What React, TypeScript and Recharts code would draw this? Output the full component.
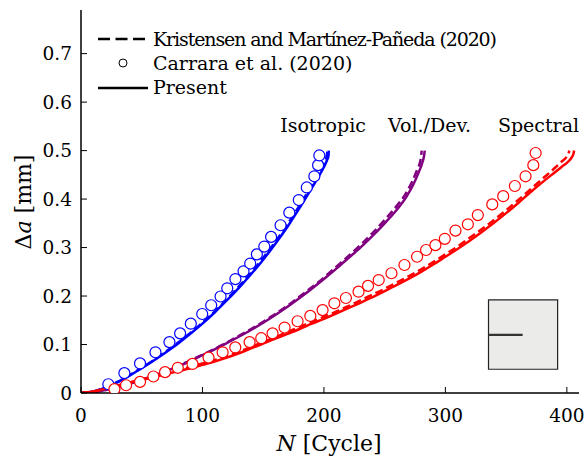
import { ComposedChart, Line, Scatter, XAxis, YAxis, ReferenceArea, ReferenceLine } from 'recharts'

// [N, Δa] pairs
const isoPresent = [
  [0, 0], [10, 0.003], [20, 0.011], [30, 0.022], [40, 0.036], [50, 0.051], [60, 0.067],
  [70, 0.084], [80, 0.102], [90, 0.122], [100, 0.143], [110, 0.166], [120, 0.191],
  [130, 0.217], [140, 0.245], [150, 0.275], [160, 0.308], [170, 0.343], [180, 0.382],
  [190, 0.423], [196, 0.448], [200, 0.466], [202.5, 0.48], [203.8, 0.49], [204, 0.5]
]
const isoKristensen = [
  [0, 0], [10, 0.003], [20, 0.012], [30, 0.023], [40, 0.037], [50, 0.052], [60, 0.068],
  [70, 0.086], [80, 0.104], [90, 0.124], [100, 0.145], [110, 0.168], [120, 0.193],
  [130, 0.22], [140, 0.248], [150, 0.279], [160, 0.312], [170, 0.348], [180, 0.387],
  [190, 0.428], [196, 0.454], [200, 0.472], [202, 0.485], [203, 0.5]
]
const isoCarrara = [
  [22.5, 0.018], [35.7, 0.041], [48.6, 0.061], [61.3, 0.084], [72.8, 0.105], [81.6, 0.123],
  [90.4, 0.143], [99.8, 0.163], [107.2, 0.181], [114.9, 0.199], [120.4, 0.216], [127.1, 0.235],
  [133.8, 0.251], [139.3, 0.267], [144.8, 0.286], [150.9, 0.302], [156.5, 0.322], [164.3, 0.346],
  [171.5, 0.372], [179.3, 0.398], [185.9, 0.424], [192.1, 0.447], [195.2, 0.47], [196.2, 0.49]
]

const volPresent = [
  [0, 0], [10, 0.002], [20, 0.006], [30, 0.012], [40, 0.019], [50, 0.027], [60, 0.036],
  [70, 0.045], [80, 0.055], [90, 0.066], [100, 0.078], [110, 0.09], [120, 0.103], [130, 0.116],
  [140, 0.13], [150, 0.145], [160, 0.161], [170, 0.178], [180, 0.196], [190, 0.215], [200, 0.235],
  [210, 0.256], [220, 0.278], [230, 0.3], [240, 0.324], [250, 0.35], [260, 0.378], [268, 0.405],
  [274, 0.432], [278, 0.455], [281, 0.475], [282.5, 0.49], [283, 0.5]
]
const volKristensen = [
  [0, 0], [10, 0.002], [20, 0.006], [30, 0.012], [40, 0.019], [50, 0.027], [60, 0.036],
  [70, 0.046], [80, 0.056], [90, 0.067], [100, 0.079], [110, 0.091], [120, 0.104], [130, 0.118],
  [140, 0.132], [150, 0.147], [160, 0.163], [170, 0.18], [180, 0.199], [190, 0.218], [200, 0.238],
  [210, 0.26], [220, 0.282], [230, 0.305], [240, 0.33], [250, 0.357], [260, 0.386], [268, 0.414],
  [273, 0.438], [277, 0.462], [279.5, 0.48], [280.5, 0.5]
]

const specPresent = [
  [0, 0], [10, 0.003], [20, 0.009], [30, 0.015], [40, 0.021], [50, 0.027], [60, 0.033],
  [70, 0.039], [80, 0.045], [90, 0.051], [100, 0.058], [110, 0.065], [120, 0.073], [130, 0.082],
  [140, 0.092], [150, 0.102], [160, 0.112], [170, 0.122], [180, 0.132], [190, 0.143], [200, 0.153],
  [210, 0.164], [220, 0.175], [230, 0.186], [240, 0.198], [250, 0.21], [260, 0.223], [270, 0.236],
  [280, 0.25], [290, 0.265], [300, 0.281], [310, 0.297], [320, 0.314], [330, 0.332], [340, 0.351],
  [350, 0.371], [360, 0.392], [370, 0.414], [380, 0.435], [390, 0.455], [396, 0.467], [401, 0.477],
  [404, 0.486], [405.5, 0.494], [406, 0.5]
]
const specKristensen = [
  [0, 0], [10, 0.003], [20, 0.009], [30, 0.015], [40, 0.022], [50, 0.028], [60, 0.034],
  [70, 0.041], [80, 0.047], [90, 0.054], [100, 0.061], [110, 0.068], [120, 0.076], [130, 0.085],
  [140, 0.095], [150, 0.105], [160, 0.115], [170, 0.126], [180, 0.136], [190, 0.147], [200, 0.157],
  [210, 0.168], [220, 0.179], [230, 0.191], [240, 0.203], [250, 0.215], [260, 0.228], [270, 0.241],
  [280, 0.255], [290, 0.27], [300, 0.286], [310, 0.302], [320, 0.32], [330, 0.338], [340, 0.357],
  [350, 0.377], [360, 0.398], [370, 0.42], [380, 0.442], [390, 0.464], [396, 0.478], [400, 0.488],
  [401.5, 0.495], [402, 0.5]
]
const specCarrara = [
  [27.5, 0.008], [37.1, 0.016], [48.6, 0.023], [59.6, 0.034], [69.2, 0.043], [79.7, 0.052],
  [91.8, 0.06], [105, 0.073], [116.6, 0.084], [127, 0.094], [138.8, 0.105], [148.4, 0.113],
  [157.7, 0.123], [167.6, 0.135], [178.3, 0.148], [188.8, 0.159], [198.9, 0.171], [208.6, 0.185],
  [218.1, 0.196], [228.5, 0.209], [236.3, 0.221], [245.1, 0.233], [255.6, 0.247], [266.3, 0.264],
  [276.7, 0.281], [284.1, 0.295], [291.8, 0.305], [299.5, 0.318], [308.3, 0.335], [318.5, 0.348],
  [326.7, 0.367], [338.6, 0.389], [347.6, 0.406], [357.2, 0.427], [366, 0.447], [372.4, 0.47],
  [374.3, 0.495]
]

const xTicks = [0, 100, 200, 300, 400]
const yTicks = [0, 0.1, 0.2, 0.3, 0.4, 0.5, 0.6, 0.7]

const BLUE = '#0000ff'
const PURPLE = '#800080'
const RED = '#ff0000'
const FONT = 'DejaVu Serif'

const pts = (arr: number[][]) => arr.map(([n, a]) => ({ n, a }))

const ring = (color: string) => (p: any) => (
  <circle cx={p.cx} cy={p.cy} r={5.5} fill="#fff" stroke={color} strokeWidth={1.2} />
)

const tickStyle = { fill: '#000', fontSize: 18.5, fontFamily: FONT }
const axisLine = { stroke: '#000', strokeWidth: 1.5 }

export default function App() {
  const ids = { xAxisId: 'b', yAxisId: 'l' }
  const lineProps = { ...ids, dataKey: 'a', type: 'monotone' as const, dot: false, isAnimationActive: false, strokeWidth: 2.5 }
  return (
    <div style={{ position: 'absolute', left: 0, top: 0, width: 587, height: 460, background: '#fff' }}>
      <ComposedChart width={587} height={460} margin={{ top: 10, right: 8, bottom: 0, left: 0 }}>
        <XAxis xAxisId="b" type="number" dataKey="n" domain={[0, 410]} ticks={xTicks} allowDataOverflow
          height={67} tickSize={-6} tickMargin={22} axisLine={axisLine} tickLine={{ stroke: '#000' }} tick={tickStyle} />
        <XAxis xAxisId="t" orientation="top" type="number" dataKey="n" domain={[0, 410]} ticks={xTicks} allowDataOverflow
          height={0} tickSize={-6} axisLine={axisLine} tickLine={{ stroke: '#000' }} tickFormatter={() => ''} />
        <YAxis yAxisId="l" type="number" domain={[0, 0.79]} ticks={yTicks} allowDataOverflow
          width={81} tickSize={-6} tickMargin={15} axisLine={axisLine} tickLine={{ stroke: '#000' }} tick={tickStyle}
          tickFormatter={(v: number) => (v === 0 ? '0' : v.toFixed(1))} />
        <YAxis yAxisId="r" orientation="right" type="number" domain={[0, 0.79]} ticks={yTicks} allowDataOverflow
          width={0} tickSize={-6} axisLine={axisLine} tickLine={{ stroke: '#000' }} tickFormatter={() => ''} />

        <ReferenceArea {...ids} x1={335.5} x2={392.4} y1={0.049} y2={0.192} fill="#ebecea" fillOpacity={1} stroke="#222" strokeWidth={1.2} />
        <ReferenceLine {...ids} segment={[{ x: 335.5, y: 0.12 }, { x: 363.6, y: 0.12 }]} stroke="#333" strokeWidth={2.2} />

        <Line {...lineProps} data={pts(isoPresent)} stroke={BLUE} />
        <Line {...lineProps} data={pts(isoKristensen)} stroke={BLUE} strokeDasharray="8 4" />
        <Line {...lineProps} data={pts(volPresent)} stroke={PURPLE} />
        <Line {...lineProps} data={pts(volKristensen)} stroke={PURPLE} strokeDasharray="8 4" />
        <Line {...lineProps} data={pts(specPresent)} stroke={RED} />
        <Line {...lineProps} data={pts(specKristensen)} stroke={RED} strokeDasharray="8 4" />

        <Scatter {...ids} data={pts(isoCarrara)} dataKey="a" shape={ring(BLUE)} isAnimationActive={false} />
        <Scatter {...ids} data={pts(specCarrara)} dataKey="a" shape={ring(RED)} isAnimationActive={false} />
      </ComposedChart>

      <svg width={587} height={460} style={{ position: 'absolute', left: 0, top: 0, pointerEvents: 'none' }}
        fontFamily={FONT} fill="#000">
        {/* legend */}
        <line x1={98} x2={148} y1={39} y2={39} stroke="#000" strokeWidth={2.5} strokeDasharray="12 5.5" />
        <text x={153} y={46} fontSize={19} textLength={344}>Kristensen and Martínez-Pañeda (2020)</text>
        <circle cx={123} cy={63} r={4} fill="none" stroke="#000" strokeWidth={1} />
        <text x={153} y={70} fontSize={19}>Carrara et al. (2020)</text>
        <line x1={98} x2={148} y1={88} y2={88} stroke="#000" strokeWidth={2.5} />
        <text x={153} y={94} fontSize={19}>Present</text>

        {/* curve labels */}
        <text x={323} y={132} fontSize={19} textAnchor="middle">Isotropic</text>
        <text x={429.5} y={132} fontSize={19} textAnchor="middle">Vol./Dev.</text>
        <text x={538.5} y={132} fontSize={19} textAnchor="middle">Spectral</text>

        {/* axis titles */}
        <text x={329} y={451} fontSize={22} textAnchor="middle">
          <tspan fontStyle="italic">N</tspan>
          <tspan dx={7}>[Cycle]</tspan>
        </text>
        <text x={31} y={202} fontSize={22} textAnchor="middle" transform="rotate(-90, 31, 202)">
          Δ<tspan fontStyle="italic">a</tspan>
          <tspan dx={7}>[mm]</tspan>
        </text>
      </svg>
    </div>
  )
}
